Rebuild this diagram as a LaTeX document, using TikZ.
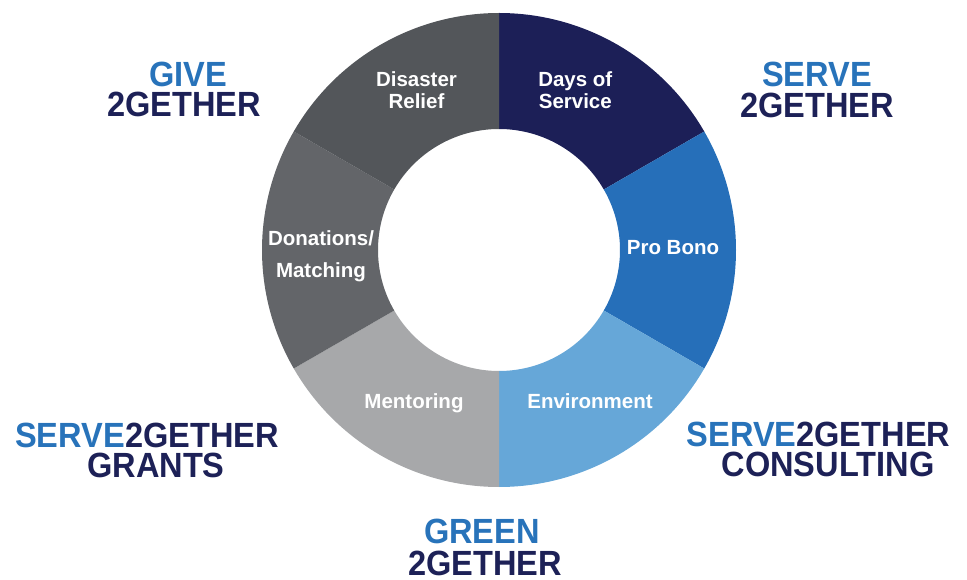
\documentclass[tikz,border=0pt]{standalone}
\usepackage{fontspec}
\setmainfont{Liberation Sans}
\newfontfamily\headfont{Liberation Sans Bold}[FakeStretch=0.93]
\newfontfamily\labelfont{Liberation Sans Bold}

\definecolor{navy}{HTML}{1D2157}
\definecolor{brandblue}{HTML}{2873BA}
\definecolor{segdays}{HTML}{1C1F57}
\definecolor{segprobono}{HTML}{266FB9}
\definecolor{segenv}{HTML}{66A7D8}
\definecolor{segmentor}{HTML}{A7A8AA}
\definecolor{segdonate}{HTML}{636569}
\definecolor{segdisaster}{HTML}{53565A}

\tikzset{
  seglabel/.style={text=white, anchor=base, inner sep=0pt,
    font=\labelfont\fontsize{20.5}{22}\selectfont},
  heading/.style={anchor=base, inner sep=0pt,
    font=\headfont\fontsize{35}{38}\selectfont},
}

% ring sector between angles #1 and #2
\newcommand{\ringsector}[3]{%
  \fill[#3] (#1:237) arc[start angle=#1, end angle=#2, radius=237]
    -- (#2:121) arc[start angle=#2, end angle=#1, radius=121] -- cycle;}

\begin{document}
\begin{tikzpicture}[x=1pt,y=1pt]
  \useasboundingbox (0,0) rectangle (967,579);

  % the ring
  \begin{scope}[shift={(499,329)}]
    \ringsector{90}{30}{segdays}
    \ringsector{30}{-30}{segprobono}
    \ringsector{-30}{-90}{segenv}
    \ringsector{-90}{-150}{segmentor}
    \ringsector{210}{150}{segdonate}
    \ringsector{150}{90}{segdisaster}
  \end{scope}

  % ring labels
  \node[seglabel] (dis1) at (416.5,492.3) {Disaster};
  \node[seglabel] (dis2) at (416.5,470) {Relief};
  \node[seglabel] (days1) at (575.3,492.3) {Days of};
  \node[seglabel] (days2) at (575.3,470) {Service};
  \node[seglabel] (pro) at (673,324) {Pro Bono};
  \node[seglabel] (env) at (590,170) {Environment};
  \node[seglabel] (men) at (414,170) {Mentoring};
  \node[seglabel] (don1) at (321,333.5) {Donations/};
  \node[seglabel] (don2) at (321,301) {Matching};

  % program names
  \node[heading, text=brandblue] (give1) at (188,492) {GIVE};
  \node[heading, text=navy] (give2) at (184,462) {2GETHER};
  \node[heading, text=brandblue] (serve1) at (817,492.3) {SERVE};
  \node[heading, text=navy] (serve2) at (817,461) {2GETHER};
  \node[heading] (grant1) at (147,131.3) {\textcolor{brandblue}{SERVE}\textcolor{navy}{2GETHER}};
  \node[heading, text=navy] (grant2) at (156,102) {GRANTS};
  \node[heading] (cons1) at (818.5,132) {\textcolor{brandblue}{SERVE}\textcolor{navy}{2GETHER}};
  \node[heading, text=navy] (cons2) at (828,103) {CONSULTING};
  \node[heading, text=brandblue] (green1) at (482,36) {GREEN};
  \node[heading, text=navy] (green2) at (485,3.3) {2GETHER};
\end{tikzpicture}
\end{document}
